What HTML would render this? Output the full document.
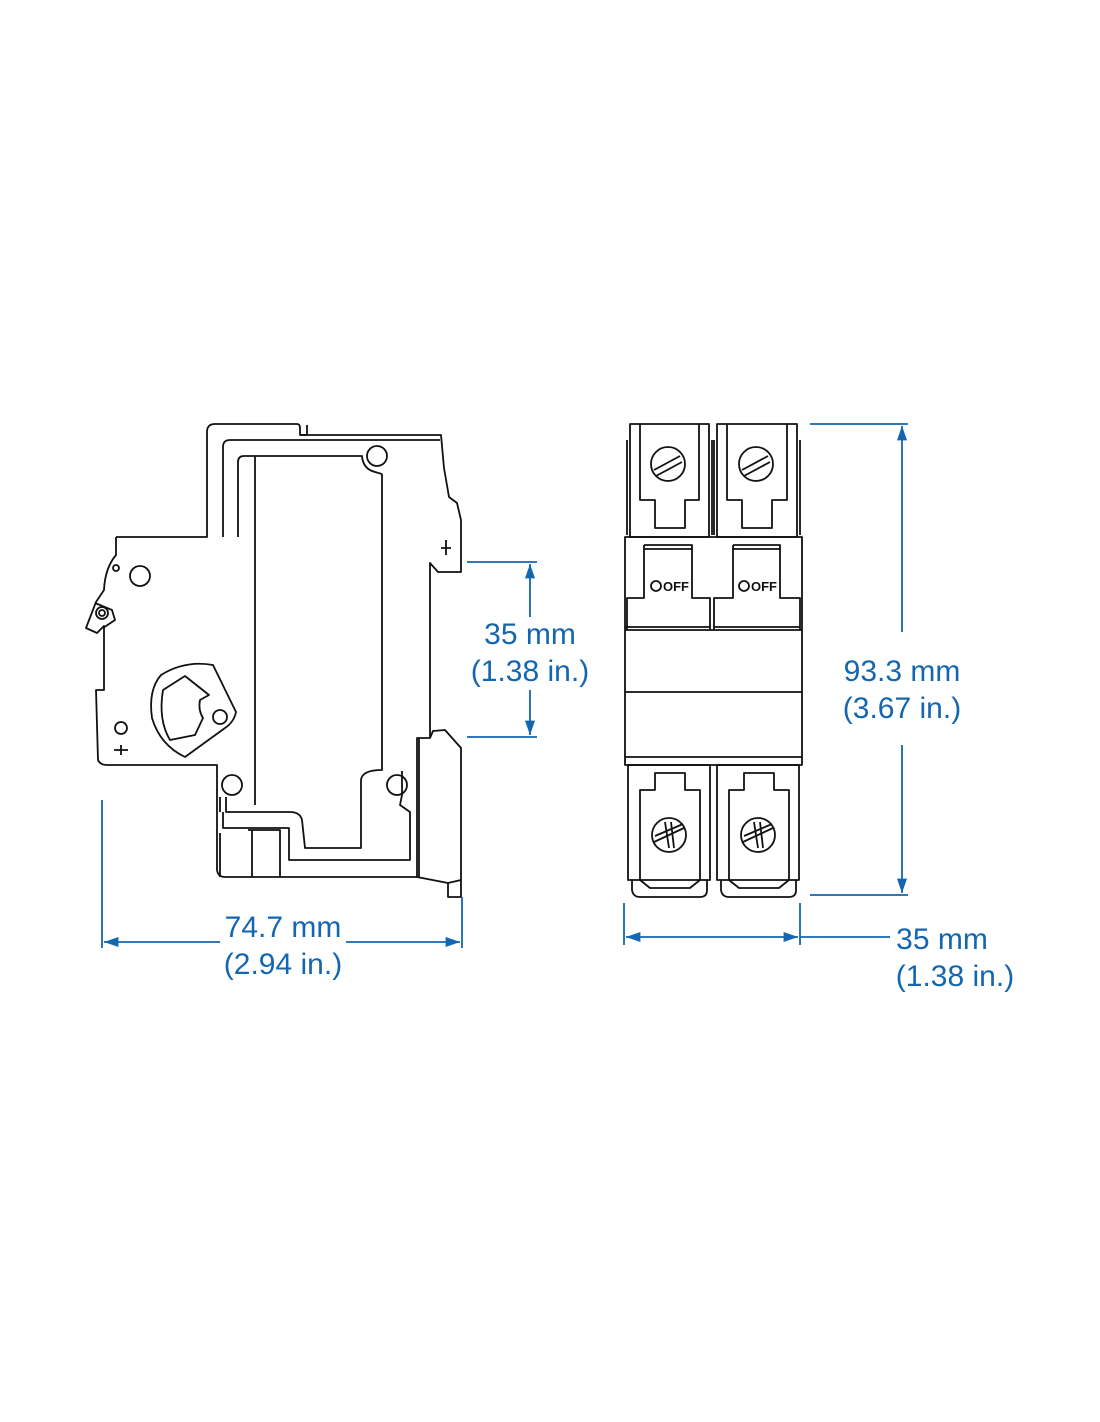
<!DOCTYPE html>
<html><head><meta charset="utf-8"><style>
html,body{margin:0;padding:0;background:#fff;}
svg{display:block;}
text{font-family:"Liberation Sans",sans-serif;font-size:30px;fill:#1466b0;}
</style></head><body>
<svg width="1100" height="1422" viewBox="0 0 1100 1422" xmlns="http://www.w3.org/2000/svg">
<defs>
<marker id="ar" viewBox="0 0 10 10" refX="10" refY="5" markerWidth="9" markerHeight="8" orient="auto-start-reverse"><path d="M0,1.5 L10,5 L0,8.5 z" fill="#1466b0"/></marker>
</defs>
<g fill="none" stroke="#111" stroke-width="1.8" stroke-linejoin="round">
<path d="M116,537 L207,537 L207,432 Q207,424 215,424 L297,424 Q300,424 300,428 L300,435 L307,435 L307,425"/>
<path d="M300,435 L441,435 L444,468 L449,497 L457,503 L461,520 L461,572 L438,572 L430,563 L430,737"/>
<path d="M116,537 L116,555 Q105,568 104,590 L96,602 L86,628 L97,633 L104,626 L104,690 L96,690 L98,760 Q100,765 107,765 L217,765 L217,870 Q218,877 225,877 L417,877"/>
<circle cx="102" cy="613" r="6"/>
<circle cx="102" cy="613" r="3"/>
<path d="M95,603 L112,610 L115,620 L103,628"/>
<path d="M223,537 L223,447 Q223,440 230,440 L440,440"/>
<path d="M238,537 L238,462 Q238,456 244,456 L362,456 Q363,469 375,472 L382,474"/>
<path d="M255,456 L255,805"/>
<path d="M382,474 L382,770 Q362,770 361,780 L361,848 L305,848 L302,820 Q300,812 290,812 L226,812 L226,797"/>
<path d="M402,771 L402,795 L400,805 L410,812 L410,860 L289,860 L289,828 L223,828 L223,812"/>
<path d="M248,830 L280,830 L280,877 M252,830 L252,877"/>
<path d="M220,797 L220,812 M220,833 L220,877"/>
<circle cx="377" cy="456" r="10"/>
<circle cx="232" cy="785" r="10"/>
<circle cx="397" cy="785" r="10"/>
<circle cx="140" cy="576" r="10"/>
<circle cx="116" cy="568" r="3"/>
<circle cx="121" cy="728" r="6"/>
<path d="M114,750 L128,750 M121,745 L121,755"/>
<path d="M446,540 L446,555 M441,548 L451,548"/>
<path d="M161,675 Q185,660 213,665 L236,712 Q234,722 225,728 L185,757 Q160,745 152,718 Q148,690 161,675 Z"/>
<path d="M163,690 L185,676 L209,695 L200,700 Q198,710 203,718 L195,735 L170,740 Q158,720 163,690 Z"/>
<circle cx="220" cy="717" r="7"/>
<path d="M417,877 L417,738 L430,738 L433,731 L445,730 L461,748 L461,880 L448,883 L448,897 L461,897 L461,880 M417,877 L448,883"/>
<path d="M419,738 L419,877"/>

<rect x="625" y="537" width="177" height="228"/>
<path d="M625,630 L802,630 M625,692 L802,692 M625,757 L802,757 M625,627 L710,627 M714,627 L800,627"/>
<rect x="630" y="424" width="79" height="113"/>
<rect x="717" y="424" width="80" height="113"/>
<path d="M640,424 L640,500 L655,500 L655,528 L685,528 L685,500 L699,500 L699,424"/>
<path d="M727,424 L727,500 L742,500 L742,528 L772,528 L772,500 L787,500 L787,424"/>
<path d="M627,440 L627,535 M712,440 L712,535 M800,440 L800,535 M714,440 L714,535"/>
<circle cx="668" cy="464" r="17"/><circle cx="756" cy="464" r="17"/>
<path d="M654,470 L680,456 M656,476 L682,462"/>
<path d="M742,470 L768,456 M744,476 L770,462"/>
<path d="M644,549 L692,549 M644,545 L692,545 L692,598 L710,598 L710,630 M644,545 L644,598 L627,598 L627,630"/>
<path d="M733,549 L780,549 M733,545 L780,545 L780,598 L800,598 L800,630 M733,545 L733,598 L714,598 L714,630"/>
<circle cx="656" cy="586" r="5"/><circle cx="744" cy="586" r="5"/>
<rect x="628" y="765" width="82" height="115"/>
<rect x="717" y="765" width="82" height="115"/>
<path d="M640,880 L640,790 L655,790 L655,773 L685,773 L685,790 L700,790 L700,880"/>
<path d="M729,880 L729,790 L744,790 L744,773 L774,773 L774,790 L789,790 L789,880"/>
<path d="M632,880 L632,890 Q633,897 640,897 L700,897 Q707,897 707,890 L707,880 M640,880 L650,888 L690,888 L700,880"/>
<path d="M721,880 L721,890 Q722,897 729,897 L789,897 Q796,897 796,890 L796,880 M729,880 L739,888 L779,888 L789,880"/>
<circle cx="669" cy="835" r="17"/><circle cx="758" cy="835" r="17"/>
<path d="M654,842 L684,828 M655,836 L683,824 M665,822 L669,848 M671,822 L674,848"/>
<path d="M743,842 L773,828 M744,836 L772,824 M754,822 L758,848 M760,822 L763,848"/>
</g>
<text x="663" y="591" style="font-size:13px;fill:#111;font-weight:bold">OFF</text>
<text x="751" y="591" style="font-size:13px;fill:#111;font-weight:bold">OFF</text>
<g stroke="#1466b0" stroke-width="1.8" fill="none">
<path d="M102,800 L102,948 M462,897 L462,948"/>
<path d="M104,942 L220,942" marker-start="url(#ar)"/>
<path d="M346,942 L460,942" marker-end="url(#ar)"/>
<path d="M467,562 L537,562 M467,737 L537,737"/>
<path d="M530,617 L530,564" marker-end="url(#ar)"/>
<path d="M530,690 L530,735" marker-end="url(#ar)"/>
<path d="M810,424 L908,424 M810,895 L908,895"/>
<path d="M902,632 L902,426" marker-end="url(#ar)"/>
<path d="M902,745 L902,893" marker-end="url(#ar)"/>
<path d="M624,903 L624,945 M800,903 L800,945"/>
<path d="M626,937 L798,937" marker-start="url(#ar)" marker-end="url(#ar)"/>
<path d="M800,937 L890,937"/>
</g>
<text x="283" y="937" text-anchor="middle">74.7 mm</text>
<text x="283" y="974" text-anchor="middle">(2.94 in.)</text>
<text x="530" y="644" text-anchor="middle">35 mm</text>
<text x="530" y="681" text-anchor="middle">(1.38 in.)</text>
<text x="902" y="681" text-anchor="middle">93.3 mm</text>
<text x="902" y="718" text-anchor="middle">(3.67 in.)</text>
<text x="942" y="949" text-anchor="middle">35 mm</text>
<text x="955" y="986" text-anchor="middle">(1.38 in.)</text>
</svg>
</body></html>
